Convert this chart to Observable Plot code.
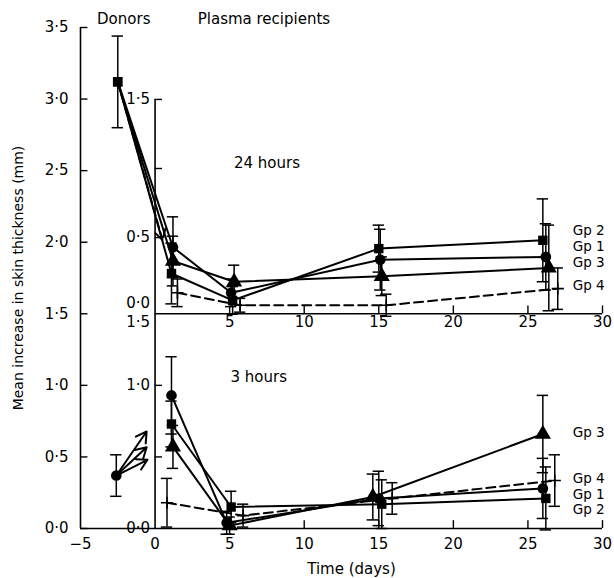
<!DOCTYPE html>
<html><head><meta charset="utf-8">
<script src="https://cdn.jsdelivr.net/npm/d3@7"></script>
<script src="https://cdn.jsdelivr.net/npm/@observablehq/plot@0.6"></script>
<style>body{margin:0;background:#fff}</style>
</head><body><div id="chart"></div>
<script>
// ---------- data ----------
const groups = ["Gp 1", "Gp 2", "Gp 3", "Gp 4"];
const symbols = ["circle", "square", "triangle", "plus"];

// donors (outer scale, mm)
const donor24 = {day: -2.5, value: 3.12, err: 0.32};
const donor3 = {day: -2.6, value: 0.37, err: 0.145};

// plasma recipients, 24 hours (inner scale, mm)
const days24 = [[1.2, 5.1, 15.1, 26.2], [1.1, 5.2, 15.0, 26.0], [1.2, 5.3, 15.2, 26.4], [1.5, 5.7, 15.5, 27.0]];
const mean24 = [[0.43, 0.10, 0.34, 0.36], [0.24, 0.045, 0.42, 0.48], [0.33, 0.18, 0.22, 0.28], [0.10, 0.01, 0.01, 0.13]];
const se24   = [[0.22, 0.10, 0.22, 0.24], [0.22, 0.10, 0.17, 0.30], [0.18, 0.12, 0.14, 0.31], [0.10, 0.05, 0.08, 0.15]];

// plasma recipients, 3 hours
const days3 = [[1.1, 4.8, 15.0, 26.0], [1.1, 5.1, 15.2, 26.2], [1.2, 5.0, 14.6, 26.0], [0.8, 5.9, 15.9, 26.8]];
const mean3 = [[0.93, 0.04, 0.21, 0.28], [0.73, 0.15, 0.17, 0.21], [0.57, 0.02, 0.22, 0.66], [0.18, 0.09, 0.21, 0.335]];
const se3   = [[0.27, 0.08, 0.19, 0.21], [0.16, 0.11, 0.17, 0.22], [0.15, 0.06, 0.16, 0.27], [0.17, 0.08, 0.11, 0.18]];

// ticks
const outerTicks = [0, 0.5, 1.0, 1.5, 2.0, 2.5, 3.0, 3.5];
const xTicks = [-5, 0, 5, 10, 15, 20, 25, 30];
const innerTicks = [0, 0.5, 1.0, 1.5];
const innerLabels24 = ["0·0", "0·5", "", "1·5"];
const innerLabels3 = ["0·0", "", "1·0", "1·5"];

// group labels at right
const labels24 = ["Gp 2", "Gp 1", "Gp 3", "Gp 4"];
const labels3 = ["Gp 3", "Gp 4", "Gp 1", "Gp 2"];

// ---------- layout ----------
const upBase = 1.55, upScale = 0.965;          // upper panel inner axis placement
const up = v => upBase + upScale * v;
const labelY24 = [2.08, 1.97, 1.86, 1.698];
const labelY3 = [0.671, 0.345, 0.238, 0.131];
const fmt = v => d3.format(".1f")(v).replace(".", "·");
const fmtX = v => v < 0 ? "−" + Math.abs(v) : String(v);

// rows
const rows = [];
groups.forEach((g, i) => {
  days24[i].forEach((d, j) => rows.push({panel: "24", g, i, x: d, y: up(mean24[i][j]), y1: up(mean24[i][j] - se24[i][j]), y2: up(mean24[i][j] + se24[i][j])}));
  days3[i].forEach((d, j) => rows.push({panel: "3", g, i, x: d, y: mean3[i][j], y1: mean3[i][j] - se3[i][j], y2: mean3[i][j] + se3[i][j]}));
});
const donors = [
  {x: donor24.day, y: donor24.value, y1: donor24.value - donor24.err, y2: donor24.value + donor24.err},
  {x: donor3.day, y: donor3.value, y1: donor3.value - donor3.err, y2: donor3.value + donor3.err}
];
const first = (panel, i) => rows.find(r => r.panel === panel && r.i === i);
const lerp = (a, b, f) => a + (b - a) * f;
const donorLinks24 = [0, 1, 2].map(i => { const p = first("24", i); return {x1: donor24.day, y1: donor24.value, x2: p.x, y2: p.y}; });
const donorArrows24 = [3].map(i => { const p = first("24", i); return {x1: donor24.day, y1: donor24.value, x2: lerp(donor24.day, p.x, 0.75), y2: lerp(donor24.value, p.y, 0.75)}; });
const donorArrows3 = [0, 1, 2].map(i => { const p = first("3", i); return {x1: donor3.day, y1: donor3.value, x2: lerp(donor3.day, p.x, 0.55), y2: lerp(donor3.value, p.y, 0.55)}; });

const cap = 0.38, tickLenX = 0.5, tickLenY = 0.055, lw = 2;
const all = rows.concat(donors);
const solid = rows.filter(r => r.i < 3), dashed = rows.filter(r => r.i === 3);

const marks = [
  // outer y axis
  Plot.ruleX([-5], {y1: 0, y2: 3.5, strokeWidth: 1.6}),
  Plot.ruleY(outerTicks, {y: d => d, x1: -5, x2: -5 + tickLenX, strokeWidth: 1.4}),
  Plot.text(outerTicks, {x: -5, y: d => d, text: fmt, textAnchor: "end", dx: -12}),
  // bottom x axis
  Plot.ruleY([0], {x1: -5, x2: 30, strokeWidth: 1.6}),
  Plot.ruleX(xTicks.filter(d => d > 0), {x: d => d, y1: 0, y2: tickLenY, strokeWidth: 1.4}),
  Plot.text(xTicks, {x: d => d, y: 0, text: fmtX, dy: 16}),
  // inner vertical axis
  Plot.ruleX([0], {y1: 0, y2: up(1.5), strokeWidth: 1.6}),
  // upper panel baseline
  Plot.ruleY([1.5], {x1: 0, x2: 30, strokeWidth: 1.6}),
  Plot.ruleX(xTicks.filter(d => d > 0), {x: d => d, y1: 1.5, y2: 1.5 + tickLenY, strokeWidth: 1.4}),
  Plot.text(xTicks.filter(d => d > 0), {x: d => d, y: 1.5, text: fmtX, dy: 8}),
  // inner ticks upper
  Plot.ruleY(innerTicks.slice(1), {y: d => up(d), x1: 0, x2: tickLenX, strokeWidth: 1.4}),
  Plot.text(innerTicks.slice(1), {x: 0, y: d => up(d), text: (d, k) => innerLabels24[k + 1], textAnchor: "end", dx: -5}),
  Plot.text(innerTicks.slice(0, 1), {x: 0, y: d => up(d), text: () => innerLabels24[0], textAnchor: "end", dx: -5, dy: -3}),
  // inner ticks lower
  Plot.ruleY([0.5, 1.0], {y: d => d, x1: 0, x2: tickLenX, strokeWidth: 1.4}),
  Plot.text(innerTicks.slice(0, 3), {x: 0, y: d => d, text: (d, k) => innerLabels3[k], textAnchor: "end", dx: -5}),
  Plot.text(innerTicks.slice(3), {x: 0, y: d => d, text: () => innerLabels3[3], textAnchor: "end", dx: -5, dy: 8}),
  // donor links
  Plot.link(donorLinks24, {x1: "x1", y1: "y1", x2: "x2", y2: "y2", strokeWidth: lw}),
  Plot.arrow(donorArrows24, {x1: "x1", y1: "y1", x2: "x2", y2: "y2", strokeWidth: lw, strokeDasharray: "9,4", headLength: 9}),
  Plot.arrow(donorArrows3, {x1: "x1", y1: "y1", x2: "x2", y2: "y2", strokeWidth: lw, headLength: 9}),
  // group lines
  Plot.line(solid, {x: "x", y: "y", z: d => d.panel + d.g, strokeWidth: lw}),
  Plot.line(dashed, {x: "x", y: "y", z: "panel", strokeWidth: lw, strokeDasharray: "9,5"}),
  // error bars
  Plot.ruleX(all, {x: "x", y1: "y1", y2: "y2", strokeWidth: 1.5}),
  Plot.ruleY(all, {y: "y1", x1: d => d.x - cap, x2: d => d.x + cap, strokeWidth: 1.5}),
  Plot.ruleY(all, {y: "y2", x1: d => d.x - cap, x2: d => d.x + cap, strokeWidth: 1.5}),
  // markers
  ...[0, 1, 2].map(i => Plot.dot(rows.filter(r => r.i === i), {x: "x", y: "y", symbol: symbols[i], fill: "black", r: i === 2 ? 6 : 5.3})),
  Plot.dot(dashed, {x: "x", y: "y", symbol: "plus", stroke: "black", strokeWidth: 1.6, r: 4}),
  Plot.dot(donors.slice(0, 1), {x: "x", y: "y", symbol: "square", fill: "black", r: 5.5}),
  Plot.dot(donors.slice(1), {x: "x", y: "y", symbol: "circle", fill: "black", r: 5.3}),
  // group labels
  Plot.text(labels24, {x: 28, y: (d, k) => labelY24[k], textAnchor: "start", fontSize: 13.5}),
  Plot.text(labels3, {x: 28, y: (d, k) => labelY3[k], textAnchor: "start", fontSize: 13.5}),
  // annotations
  Plot.text(["Donors"], {x: -2.1, y: 3.56, fontSize: 15}),
  Plot.text(["Plasma recipients"], {x: 7.3, y: 3.56, fontSize: 15}),
  Plot.text(["24 hours"], {x: 7.5, y: 2.55, fontSize: 15}),
  Plot.text(["3 hours"], {x: 6.95, y: 1.055, fontSize: 15}),
  Plot.text(["Mean increase in skin thickness (mm)"], {frameAnchor: "left", textAnchor: "middle", rotate: -90, dx: -62, fontSize: 14}),
  Plot.text(["Time (days)"], {frameAnchor: "bottom", textAnchor: "middle", lineAnchor: "middle", dx: 10, dy: 41, fontSize: 15})
];

const chart = Plot.plot({
  width: 614, height: 578,
  marginLeft: 80, marginRight: 12, marginTop: 27, marginBottom: 50,
  x: {domain: [-5, 30], axis: null},
  y: {domain: [0, 3.5], axis: null},
  style: {fontFamily: "DejaVu Sans", fontSize: "15px", color: "black", background: "white", overflow: "visible"},
  marks
});
document.getElementById("chart").appendChild(chart);
</script>
</body></html>
